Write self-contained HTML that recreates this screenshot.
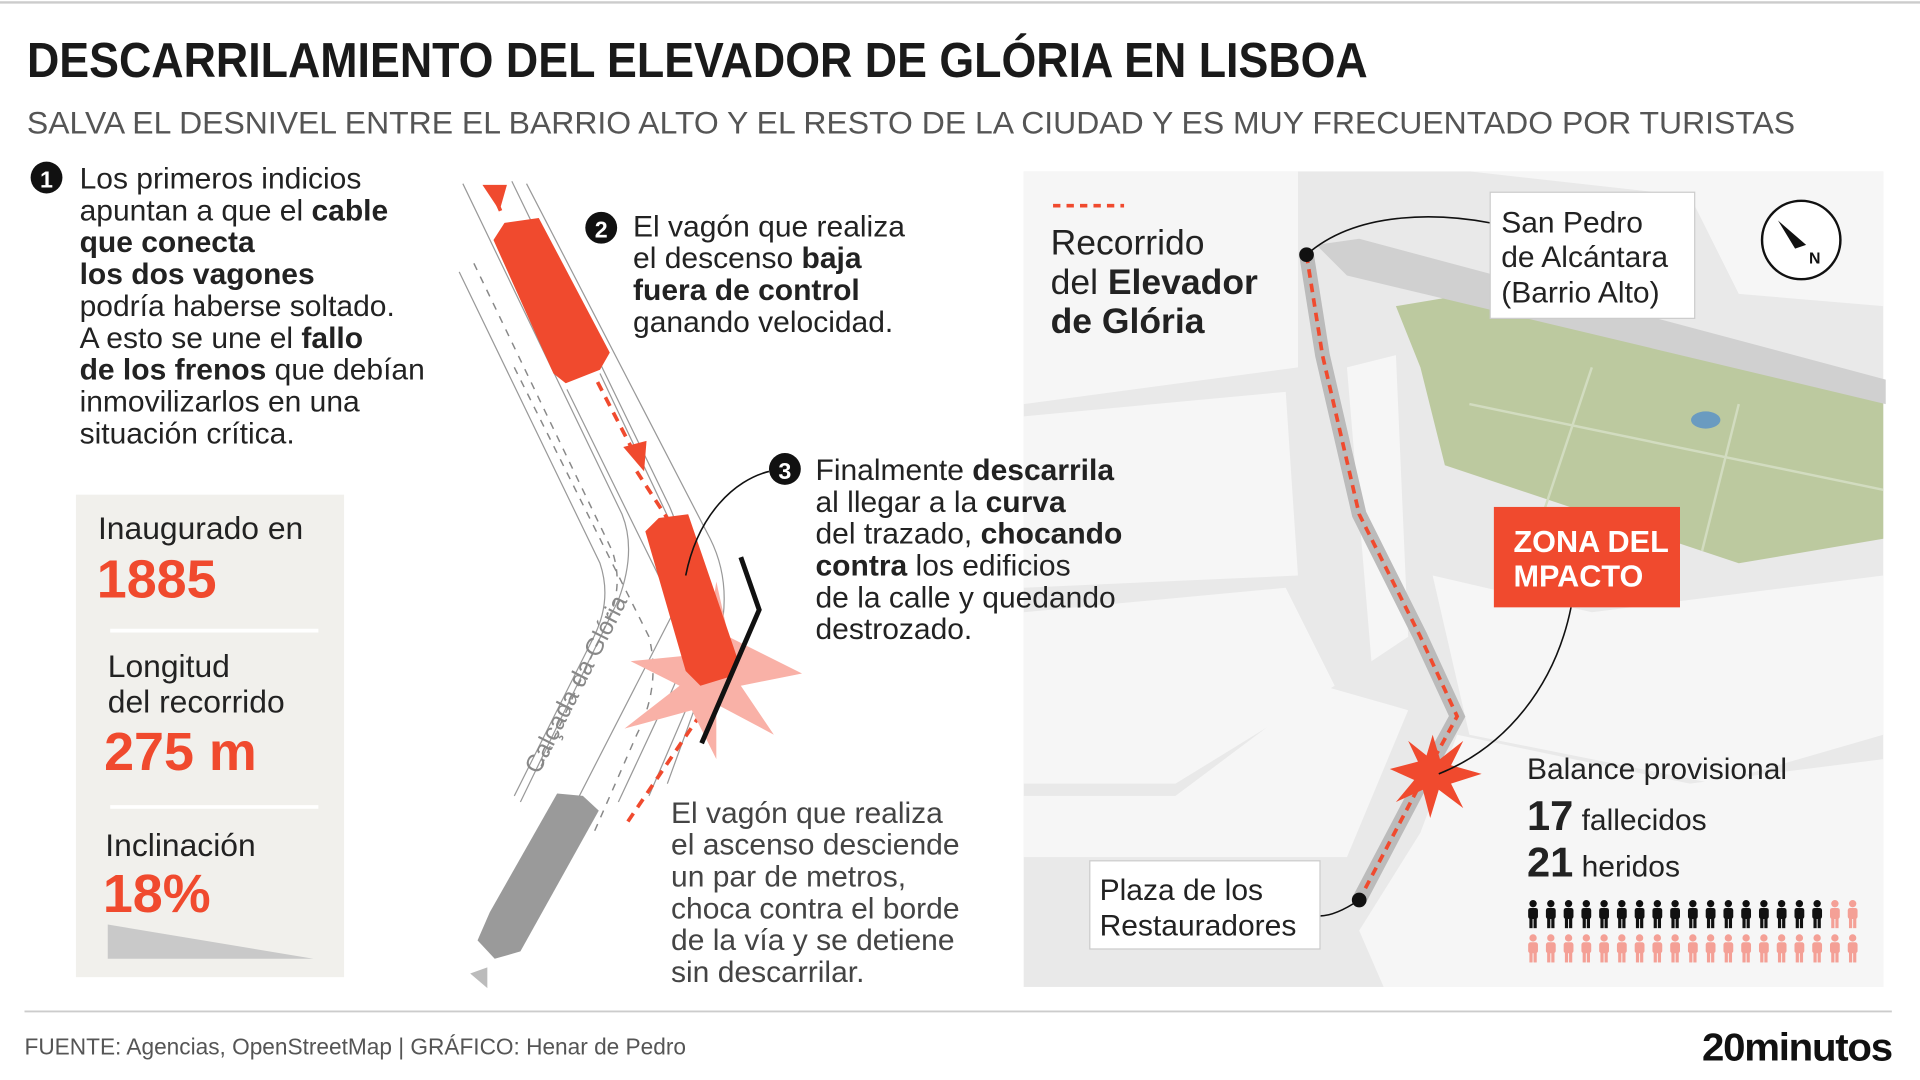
<!DOCTYPE html>
<html><head><meta charset="utf-8"><style>
html,body{margin:0;padding:0;background:#fff;width:1920px;height:1080px;overflow:hidden}
svg{display:block}
text{font-family:"Liberation Sans",sans-serif}
</style></head><body>
<svg width="1920" height="1080" viewBox="0 0 1568 882" xmlns="http://www.w3.org/2000/svg">
<rect width="1568" height="882" fill="#fff"/>
<line x1="0" y1="2" x2="1568" y2="2" stroke="#ccc" stroke-width="2"/>
<text x="22" y="63" font-size="40" font-weight="bold" fill="#1a1a1a" textLength="1095" lengthAdjust="spacingAndGlyphs">DESCARRILAMIENTO DEL ELEVADOR DE GLÓRIA EN LISBOA</text>
<text x="22" y="109" font-size="26" fill="#555" textLength="1444" lengthAdjust="spacingAndGlyphs">SALVA EL DESNIVEL ENTRE EL BARRIO ALTO Y EL RESTO DE LA CIUDAD Y ES MUY FRECUENTADO POR TURISTAS</text>

<!-- map -->
<rect x="836" y="140" width="702" height="666" fill="#e9e9e9"/>
<g fill="#f6f6f6">
<polygon points="836,140 1060,140 1060,300 836,330"/>
<polygon points="836,340 1050,320 1060,470 836,480"/>
<polygon points="836,500 1050,480 1090,560 960,640 836,640"/>
<polygon points="836,650 960,650 1080,560 1150,580 1100,700 836,700"/>
<polygon points="1200,140 1538,140 1538,250 1420,240 1380,160"/>
<polygon points="1170,470 1300,500 1538,470 1538,600 1400,640 1200,600"/>
<polygon points="1190,600 1380,640 1538,620 1538,806 1130,806 1110,760 1160,680"/>
<polygon points="1100,300 1140,290 1150,520 1120,540"/>
</g>
<polygon points="1140,250 1200,240 1538,320 1538,440 1420,460 1300,420 1180,380 1160,300" fill="#bcc99f"/>
<g stroke="#d2dcc0" stroke-width="2" fill="none">
<line x1="1200" y1="330" x2="1538" y2="400"/><line x1="1300" y1="300" x2="1260" y2="420"/><line x1="1420" y1="330" x2="1390" y2="450"/>
</g>
<ellipse cx="1393" cy="343" rx="12" ry="7" fill="#6a9bc0"/>
<polygon points="1075,200 1110,195 1540,310 1540,330 1100,225" fill="#d0d0d0"/>
<path d="M1067,208 L1080,290 L1110,420 L1160,520 L1190,585 L1160,640 L1110,735" fill="none" stroke="#bbb" stroke-width="12"/>
<path d="M1067,208 L1080,290 L1110,420 L1160,520 L1190,585 L1160,640 L1110,735" fill="none" stroke="#f04a2e" stroke-width="3" stroke-dasharray="7,5"/>
<circle cx="1067" cy="208" r="6" fill="#111"/>
<circle cx="1110" cy="735" r="6" fill="#111"/>
<path d="M1067,208 C1110,170 1180,175 1217,182" fill="none" stroke="#111" stroke-width="1.3"/>
<path d="M1110,735 C1095,745 1085,748 1078,748" fill="none" stroke="#111" stroke-width="1.3"/>
<polygon points="1170,600 1176,620 1195,605 1185,625 1210,632 1185,640 1195,660 1175,645 1168,668 1162,645 1140,655 1155,637 1135,628 1158,622 1150,605 1165,617" fill="#f04a2e"/>
<path d="M1175,632 C1230,610 1270,560 1283,496" fill="none" stroke="#111" stroke-width="1.3"/>
<line x1="860" y1="168" x2="918" y2="168" stroke="#f04a2e" stroke-width="3" stroke-dasharray="6,5"/>
<g font-size="29" fill="#222">
<text x="858" y="208">Recorrido</text>
<text x="858" y="240">del <tspan font-weight="bold">Elevador</tspan></text>
<text x="858" y="272" font-weight="bold">de Glória</text>
</g>
<rect x="1217" y="157" width="167" height="103" fill="#fff" stroke="#ccc"/>
<g font-size="24.5" fill="#222">
<text x="1226" y="190">San Pedro</text>
<text x="1226" y="218">de Alcántara</text>
<text x="1226" y="247">(Barrio Alto)</text>
</g>
<circle cx="1471" cy="196" r="32" fill="#fff" stroke="#111" stroke-width="2"/>
<polygon points="1452,180 1475,200 1466,203" fill="#111"/>
<text x="1482" y="215" font-size="13" font-weight="bold" fill="#111" text-anchor="middle">N</text>
<rect x="1220" y="414" width="152" height="82" fill="#f04a2e"/>
<text x="1236" y="451" font-size="25" font-weight="bold" fill="#fff">ZONA DEL</text>
<text x="1236" y="479" font-size="25" font-weight="bold" fill="#fff">MPACTO</text>
<rect x="890" y="703" width="188" height="72" fill="#fff" stroke="#ccc"/>
<text x="898" y="735" font-size="24.5" fill="#222">Plaza de los</text>
<text x="898" y="764" font-size="24.5" fill="#222">Restauradores</text>
<text x="1247" y="636" font-size="24.5" fill="#222">Balance provisional</text>
<text x="1247" y="678" font-size="24.5" fill="#222"><tspan font-size="34" font-weight="bold">17</tspan> fallecidos</text>
<text x="1247" y="716" font-size="24.5" fill="#222"><tspan font-size="34" font-weight="bold">21</tspan> heridos</text>
<defs><g id="p"><circle cx="0" cy="3" r="3"/><rect x="-4" y="6.5" width="8" height="9" rx="2"/><rect x="-3" y="14" width="2.6" height="9"/><rect x="0.4" y="14" width="2.6" height="9"/></g></defs>
<g fill="#111">
<use href="#p" x="1252" y="735"/><use href="#p" x="1266.5" y="735"/><use href="#p" x="1281" y="735"/><use href="#p" x="1295.5" y="735"/><use href="#p" x="1310" y="735"/><use href="#p" x="1324.5" y="735"/><use href="#p" x="1339" y="735"/><use href="#p" x="1353.5" y="735"/><use href="#p" x="1368" y="735"/><use href="#p" x="1382.5" y="735"/><use href="#p" x="1397" y="735"/><use href="#p" x="1411.5" y="735"/><use href="#p" x="1426" y="735"/><use href="#p" x="1440.5" y="735"/><use href="#p" x="1455" y="735"/><use href="#p" x="1469.5" y="735"/><use href="#p" x="1484" y="735"/>
</g>
<g fill="#f4a096">
<use href="#p" x="1498.5" y="735"/><use href="#p" x="1513" y="735"/>
<use href="#p" x="1252" y="763"/><use href="#p" x="1266.5" y="763"/><use href="#p" x="1281" y="763"/><use href="#p" x="1295.5" y="763"/><use href="#p" x="1310" y="763"/><use href="#p" x="1324.5" y="763"/><use href="#p" x="1339" y="763"/><use href="#p" x="1353.5" y="763"/><use href="#p" x="1368" y="763"/><use href="#p" x="1382.5" y="763"/><use href="#p" x="1397" y="763"/><use href="#p" x="1411.5" y="763"/><use href="#p" x="1426" y="763"/><use href="#p" x="1440.5" y="763"/><use href="#p" x="1455" y="763"/><use href="#p" x="1469.5" y="763"/><use href="#p" x="1484" y="763"/><use href="#p" x="1498.5" y="763"/><use href="#p" x="1513" y="763"/>
</g>

<!-- item 1 -->
<circle cx="38" cy="145" r="13" fill="#111"/><text x="38" y="153" font-size="19" font-weight="bold" fill="#fff" text-anchor="middle">1</text>
<g font-size="24.5" fill="#222">
<text x="65" y="154">Los primeros indicios</text>
<text x="65" y="180">apuntan a que el <tspan font-weight="bold">cable</tspan></text>
<text x="65" y="206" font-weight="bold">que conecta</text>
<text x="65" y="232" font-weight="bold">los dos vagones</text>
<text x="65" y="258">podría haberse soltado.</text>
<text x="65" y="284">A esto se une el <tspan font-weight="bold">fallo</tspan></text>
<text x="65" y="310"><tspan font-weight="bold">de los frenos</tspan> que debían</text>
<text x="65" y="336">inmovilizarlos en una</text>
<text x="65" y="362">situación crítica.</text>
</g>

<!-- stats -->
<rect x="62" y="404" width="219" height="394" fill="#f1f0ec"/>
<text x="80" y="440" font-size="26" fill="#222">Inaugurado en</text>
<text x="79" y="488" font-size="44" font-weight="bold" fill="#f04a2e">1885</text>
<line x1="90" y1="515" x2="260" y2="515" stroke="#fff" stroke-width="3"/>
<text x="88" y="553" font-size="26" fill="#222">Longitud</text>
<text x="88" y="582" font-size="26" fill="#222">del recorrido</text>
<text x="85" y="629" font-size="44" font-weight="bold" fill="#f04a2e">275 m</text>
<line x1="90" y1="659" x2="260" y2="659" stroke="#fff" stroke-width="3"/>
<text x="86" y="699" font-size="26" fill="#222">Inclinación</text>
<text x="84" y="745" font-size="44" font-weight="bold" fill="#f04a2e">18%</text>
<polygon points="88,755 88,783 256,783" fill="#c9c9c9"/>

<!-- tracks -->
<g fill="none" stroke="#999" stroke-width="1">
<path d="M378,150 L508,420 Q520,450 505,490 L425,655"/>
<path d="M375,222 L490,460 Q500,490 485,520 L420,650"/>
<path d="M418,148 L545,410 Q565,450 550,500 L468,660"/>
<path d="M463,318 L555,505 Q565,540 540,580 L505,655"/>
<path d="M490,305 L580,495 Q585,530 560,580 L530,650"/>
<path d="M430,150 L580,440 Q600,480 585,530 L545,640"/>
</g>
<g fill="none" stroke="#888" stroke-width="1.2" stroke-dasharray="6,6">
<path d="M387,215 L500,450 Q510,480 495,510 L440,630"/>
<path d="M420,300 L530,520 Q540,560 520,600 L485,680"/>
</g>
<g stroke="#f04a2e" stroke-width="3" stroke-dasharray="8,6" fill="none">
<line x1="400" y1="152" x2="410" y2="175"/>
<line x1="488" y1="312" x2="518" y2="370"/>
<line x1="520" y1="385" x2="548" y2="428"/>
<line x1="588" y1="560" x2="510" y2="675"/>
</g>
<polygon points="394,151 414,151 408,172" fill="#f04a2e"/>
<polygon points="509,365 528,360 526,385" fill="#f04a2e"/>
<polygon points="585,475 595,520 655,550 605,560 632,600 585,575 585,620 565,580 510,595 555,560 515,540 565,535 560,510 578,520" fill="#f9b1a7"/>
<polygon points="403,196 412,182 440,178 498,288 490,302 462,313 452,305" fill="#f04a2e"/>
<polygon points="527,434 538,423 562,420 603,540 595,553 572,560 560,548" fill="#f04a2e"/>
<polygon points="455,648 476,650 489,662 425,777 404,783 390,768 400,745" fill="#9a9a9a"/>
<polygon points="384,795 398,790 398,807" fill="#bbb"/>
<polyline points="605,455 620,498 573,607" fill="none" stroke="#111" stroke-width="4"/>
<text transform="translate(440,633) rotate(-63)" font-size="20" fill="#888">Calçada da Glória</text>
<path d="M560,470 C570,420 600,392 628,385" fill="none" stroke="#111" stroke-width="1.3"/>

<!-- item 2 -->
<circle cx="491" cy="186" r="13" fill="#111"/><text x="491" y="194" font-size="19" font-weight="bold" fill="#fff" text-anchor="middle">2</text>
<g font-size="24.5" fill="#222">
<text x="517" y="193">El vagón que realiza</text>
<text x="517" y="219">el descenso <tspan font-weight="bold">baja</tspan></text>
<text x="517" y="245" font-weight="bold">fuera de control</text>
<text x="517" y="271">ganando velocidad.</text>
</g>
<!-- item 3 -->
<circle cx="641" cy="383" r="13" fill="#111"/><text x="641" y="391" font-size="19" font-weight="bold" fill="#fff" text-anchor="middle">3</text>
<g font-size="24.5" fill="#222">
<text x="666" y="392">Finalmente <tspan font-weight="bold">descarrila</tspan></text>
<text x="666" y="418">al llegar a la <tspan font-weight="bold">curva</tspan></text>
<text x="666" y="444">del trazado, <tspan font-weight="bold">chocando</tspan></text>
<text x="666" y="470"><tspan font-weight="bold">contra</tspan> los edificios</text>
<text x="666" y="496">de la calle y quedando</text>
<text x="666" y="522">destrozado.</text>
</g>
<g font-size="24.5" fill="#444">
<text x="548" y="672">El vagón que realiza</text>
<text x="548" y="698">el ascenso desciende</text>
<text x="548" y="724">un par de metros,</text>
<text x="548" y="750">choca contra el borde</text>
<text x="548" y="776">de la vía y se detiene</text>
<text x="548" y="802">sin descarrilar.</text>
</g>

<!-- footer -->
<line x1="20" y1="826" x2="1545" y2="826" stroke="#ccc" stroke-width="1.5"/>
<text x="20" y="861" font-size="18.5" fill="#555">FUENTE: Agencias, OpenStreetMap  |  GRÁFICO: Henar de Pedro</text>
<text x="1390" y="866" font-size="32" font-weight="bold" fill="#111" textLength="155" lengthAdjust="spacingAndGlyphs" letter-spacing="-1">20minutos</text>
</svg>
</body></html>
